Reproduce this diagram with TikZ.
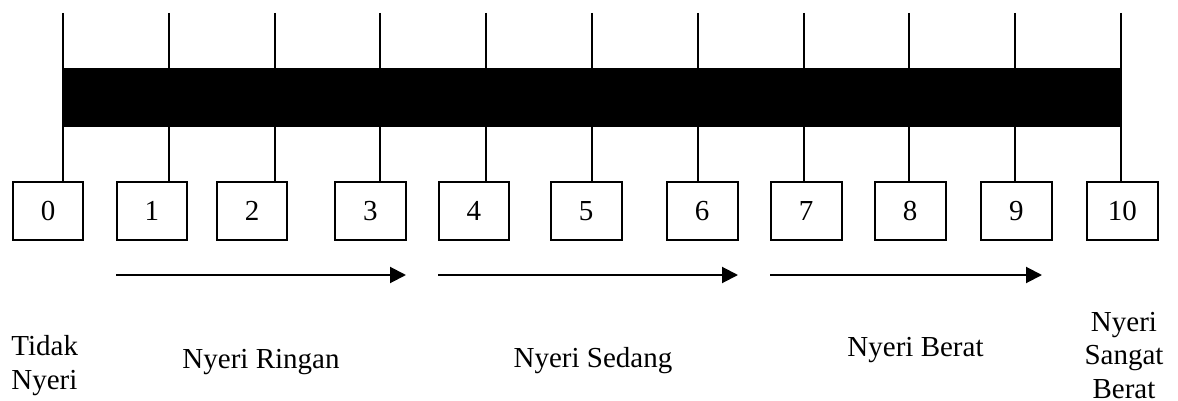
\documentclass[tikz,border=0pt]{standalone}
\usepackage{fontspec}
\setmainfont{Liberation Serif}
\usetikzlibrary{arrows.meta}
\tikzset{
  scalebox/.style={draw, line width=1pt, minimum width=35.3pt, minimum height=29pt,
                   inner sep=0pt, font=\fontsize{14.5pt}{16.75pt}\selectfont},
  tickline/.style={line width=1pt},
  band/.style={fill=black, draw=none},
  spanarrow/.style={line width=1pt, -{Triangle[length=8pt,width=8pt]}},
  lbl/.style={inner sep=0pt, font=\fontsize{14.5pt}{16.75pt}\selectfont},
}
\begin{document}
\begin{tikzpicture}[x=0.5pt, y=-0.5pt]
  \useasboundingbox (0,0) rectangle (1178,401);

  % numbered boxes 0..10
  \foreach \n/\cx in {0/48, 1/151.85, 2/252, 3/370.3, 4/473.85, 5/586.2,
                      6/702.2, 7/806.2, 8/910.2, 9/1016.3, 10/1122.3} {
    \node[scalebox] (b\n) at (\cx,210.7) {\n};
  }

  % tick positions above the boxes
  \foreach \n in {0,...,10} {
    \coordinate (t\n) at ({63+105.8*\n},13);
  }

  % ticks from the top down to each box
  \foreach \n in {0,...,10} {
    \draw[tickline] (t\n) -- (t\n |- b\n.north);
  }

  % black scale bar
  \fill[band] (63,68) rectangle (1121,127);

  % range arrows
  \coordinate (r1s) at (116,275);   \coordinate (r1e) at (406,275);
  \coordinate (r2s) at (438,275);   \coordinate (r2e) at (738,275);
  \coordinate (r3s) at (770,275);   \coordinate (r3e) at (1042,275);
  \draw[spanarrow] (r1s) -- (r1e);
  \draw[spanarrow] (r2s) -- (r2e);
  \draw[spanarrow] (r3s) -- (r3e);

  % category labels (base of a multi-line node = last line's baseline)
  \node[lbl, anchor=base west, align=left] (l0) at (11,389) {Tidak\\Nyeri};
  \node[lbl, anchor=base] (l1) at (261,368) {Nyeri Ringan};
  \node[lbl, anchor=base] (l2) at (593,367.3) {Nyeri Sedang};
  \node[lbl, anchor=base] (l3) at (915.5,356) {Nyeri Berat};
  \node[lbl, anchor=base, align=center] (l4) at (1124,398.3) {Nyeri\\Sangat\\Berat};
\end{tikzpicture}
\end{document}
